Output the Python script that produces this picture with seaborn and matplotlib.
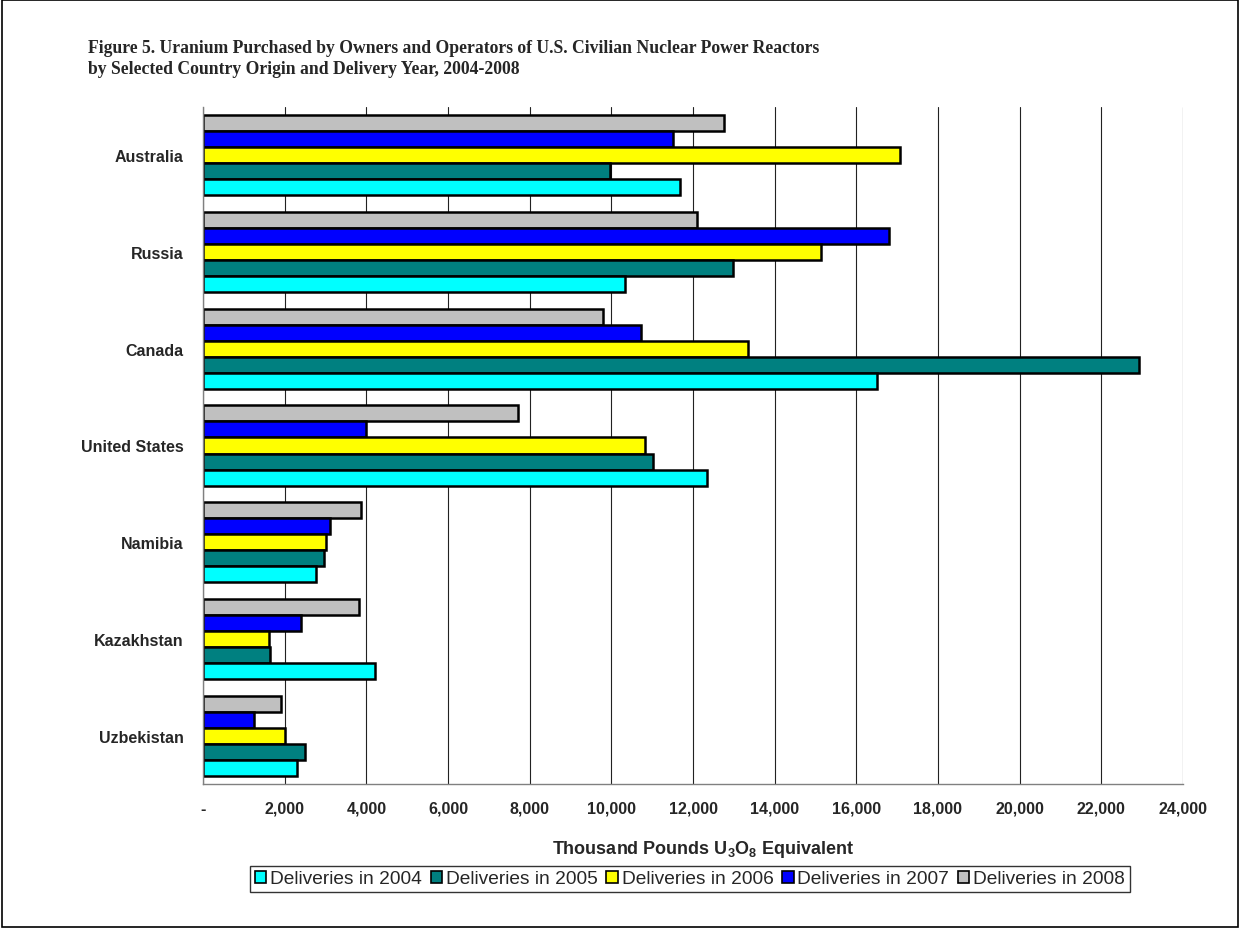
import numpy as np
import pandas as pd
import matplotlib
matplotlib.use("Agg")
import matplotlib.pyplot as plt
from matplotlib.patches import Patch, Rectangle
from matplotlib.ticker import FuncFormatter
import seaborn as sns

countries = ["Australia", "Russia", "Canada", "United States", "Namibia", "Kazakhstan", "Uzbekistan"]
years = ["Deliveries in 2004", "Deliveries in 2005", "Deliveries in 2006", "Deliveries in 2007", "Deliveries in 2008"]
d2004 = [11680, 10340, 16500, 12350, 2770, 4210, 2300]
d2005 = [9970, 12980, 22920, 11030, 2960, 1640, 2500]
d2006 = [17080, 15140, 13350, 10830, 3000, 1610, 2010]
d2007 = [11520, 16800, 10730, 3980, 3110, 2410, 1260]
d2008 = [12770, 12100, 9800, 7720, 3880, 3820, 1920]
colors = ["#00FFFF", "#008080", "#FFFF00", "#0000FF", "#C0C0C0"]

title1 = "Figure 5. Uranium Purchased by Owners and Operators of U.S. Civilian Nuclear Power Reactors"
title2 = "by Selected Country Origin and Delivery Year, 2004-2008"
xlabel = r"Thousand Pounds U$_{\mathbf{3}}$O$_{\mathbf{8}}$ Equivalent"

sns.set_style("white")
plt.rcParams["font.family"] = ["Liberation Sans", "DejaVu Sans"]
plt.rcParams["mathtext.fontset"] = "custom"
plt.rcParams["mathtext.rm"] = "Liberation Sans:bold"
plt.rcParams["mathtext.bf"] = "Liberation Sans:bold"
plt.rcParams["mathtext.it"] = "Liberation Sans:bold"

rows = []
for yr, vals in zip(years, [d2004, d2005, d2006, d2007, d2008]):
    for c, v in zip(countries, vals):
        rows.append({"country": c, "year": yr, "value": v})
df = pd.DataFrame(rows)

W, H = 1240, 929
fig = plt.figure(figsize=(W / 100, H / 100), dpi=100)
ax = fig.add_axes([203 / W, 1 - 785 / H, 980 / W, (785 - 108) / H])

pal = dict(zip(years, colors))
hue_order = years[::-1]
sns.barplot(data=df, y="country", x="value", hue="year", hue_order=hue_order,
            order=countries, palette=pal, orient="h", width=0.83,
            edgecolor="black", linewidth=1.8, ax=ax, legend=False, saturation=1)

ax.set_xlim(0, 24000)
ax.set_ylim(6.5, -0.5)
ax.set_xticks(np.arange(0, 24001, 2000))
ax.xaxis.set_major_formatter(FuncFormatter(lambda v, p: "-" if v == 0 else f"{int(v):,}"))
ax.grid(axis="x", color="#222222", linewidth=0.8)
ax.grid(axis="y", visible=False)
ax.set_axisbelow(True)
for s in ["top", "right"]:
    ax.spines[s].set_visible(False)
for s in ["left", "bottom"]:
    ax.spines[s].set_color("#808080")
    ax.spines[s].set_linewidth(1.0)

ax.set_yticks(np.arange(-0.5, 7, 1), minor=True)
ax.tick_params(axis="y", which="major", length=0, pad=14)
ax.tick_params(axis="y", which="minor", length=5, color="#808080", width=1.0, direction="out")
ax.tick_params(axis="x", which="major", length=5, color="#808080", width=1.0, direction="out", pad=7)
for lab in ax.get_yticklabels():
    lab.set_fontweight("bold")
    lab.set_fontsize(11.5)
for lab in ax.get_xticklabels():
    lab.set_fontweight("bold")
    lab.set_fontsize(11.5)
ax.set_ylabel("")
ax.set_xlabel(xlabel, fontsize=13, fontweight="bold", labelpad=14)
ax.xaxis.set_label_coords(0.51, -0.08)

fig.text(88 / W, 1 - 53 / H, title1, fontsize=12.7, fontweight="bold",
         family=["Liberation Serif"], ha="left", va="baseline")
fig.text(88 / W, 1 - 74 / H, title2, fontsize=12.7, fontweight="bold",
         family=["Liberation Serif"], ha="left", va="baseline")

handles = [Patch(facecolor=c, edgecolor="black", linewidth=1.2) for c in colors]
leg = fig.legend(handles, years, loc="center", bbox_to_anchor=(690 / W, 1 - 880 / H),
                 ncol=5, frameon=True, fancybox=False, fontsize=13.8,
                 handlelength=0.6, handleheight=0.6, handletextpad=0.2,
                 columnspacing=0.45, borderpad=0.25, borderaxespad=0)
leg.get_frame().set_edgecolor("black")
leg.get_frame().set_linewidth(1.0)

fig.patches.append(Rectangle((0.0015, 0.0015), 0.997, 0.997, transform=fig.transFigure,
                             fill=False, edgecolor="black", linewidth=1.2))

fig.savefig("out.png", dpi=100)
